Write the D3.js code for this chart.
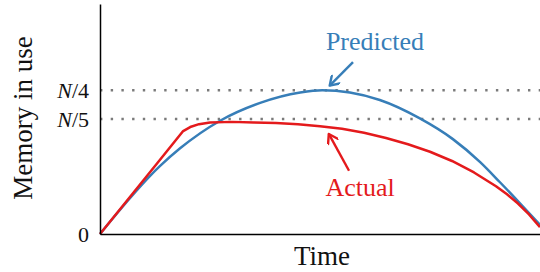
<!DOCTYPE html>
<html>
<head>
<meta charset="utf-8">
<script src="https://cdn.jsdelivr.net/npm/d3@7"></script>
<style>
  body { margin: 0; background: #fff; }
</style>
</head>
<body>
<script>
var width = 540,
    height = 272,
    serif = "'Liberation Serif', 'DejaVu Serif', serif";

// time as a fraction of the run, memory as a fraction of N
var predictedT = [0, 0.136, 0.182, 0.273, 0.364, 0.455, 0.505, 0.568, 0.636, 0.727, 0.802, 0.864, 0.909, 0.955, 1.0];
var predictedM = [0, 0.118, 0.149, 0.197, 0.228, 0.246, 0.25, 0.246, 0.233, 0.201, 0.165, 0.125, 0.09, 0.053, 0.016];

var actualT = [0, 0.130, 0.189, 0.205, 0.225, 0.25, 0.3, 0.35, 0.4, 0.45, 0.5, 0.55, 0.6, 0.65, 0.7, 0.75, 0.8, 0.85, 0.9, 0.925, 0.95, 0.975, 1.0];
var actualM = [0, 0.123, 0.179, 0.186, 0.191, 0.194, 0.195, 0.194, 0.193, 0.191, 0.1875, 0.183, 0.176, 0.167, 0.156, 0.143, 0.127, 0.107, 0.083, 0.069, 0.053, 0.034, 0.012];

var levelValues = [0.25, 0.2];
var tickValues = [0, 0.2, 0.25];
var tickLabels = ["0", "N/5", "N/4"];

var blue = "#377eb8",
    red = "#e41a1c";

var x = d3.scaleLinear().domain([0, 1]).range([100, 540]);
var y = d3.scaleLinear().domain([0, 0.4]).range([234, 4]);

var svg = d3.select("body").append("svg")
    .attr("width", width)
    .attr("height", height);

var defs = svg.append("defs");
[["arrowBlue", blue], ["arrowRed", red]].forEach(function(m) {
  defs.append("marker")
      .attr("id", m[0])
      .attr("viewBox", "0 0 12 12")
      .attr("refX", 10.5)
      .attr("refY", 6)
      .attr("markerWidth", 12)
      .attr("markerHeight", 12)
      .attr("markerUnits", "userSpaceOnUse")
      .attr("orient", "auto")
    .append("path")
      .attr("d", "M2,0.5 L10.5,6 L2,11.5")
      .attr("fill", "none")
      .attr("stroke", m[1])
      .attr("stroke-width", 2.4)
      .attr("stroke-linecap", "round")
      .attr("stroke-linejoin", "round");
});

// dotted reference levels
svg.selectAll("line.level")
    .data(levelValues)
  .enter().append("line")
    .attr("class", "level")
    .attr("x1", x(0))
    .attr("x2", x(1))
    .attr("y1", function(d) { return y(d); })
    .attr("y2", function(d) { return y(d); })
    .attr("stroke", "#7a7a7a")
    .attr("stroke-width", 2.4)
    .attr("stroke-dasharray", "2.4,8.3");

var smooth = d3.line()
    .x(function(d) { return x(d[0]); })
    .y(function(d) { return y(d[1]); })
    .curve(d3.curveMonotoneX);

var straight = d3.line()
    .x(function(d) { return x(d[0]); })
    .y(function(d) { return y(d[1]); });

svg.append("path")
    .datum(d3.zip(predictedT, predictedM))
    .attr("d", smooth)
    .attr("fill", "none")
    .attr("stroke", blue)
    .attr("stroke-width", 2.5);

svg.append("path")
    .datum(d3.zip(actualT, actualM))
    .attr("d", straight)
    .attr("fill", "none")
    .attr("stroke", red)
    .attr("stroke-width", 2.5)
    .attr("stroke-linejoin", "round");

// axes
var yAxis = svg.append("g")
    .attr("transform", "translate(" + x(0) + ",0)")
    .call(d3.axisLeft(y).tickValues(tickValues).tickSize(0).tickPadding(11)
      .tickFormat(function(d, i) { return tickLabels[i]; }));

yAxis.select(".domain").attr("stroke", "#000").attr("stroke-width", 1.5);
yAxis.selectAll(".tick text")
    .attr("fill", "#111")
    .attr("font-family", serif)
    .attr("font-size", 22)
    .each(function(d, i) {
      var t = d3.select(this), s = tickLabels[i];
      if (s.charAt(0) === "N") {
        t.text(null);
        t.append("tspan").attr("font-style", "italic").text("N");
        t.append("tspan").text(s.slice(1));
      }
    });

var xAxis = svg.append("g")
    .attr("transform", "translate(0," + y(0) + ")")
    .call(d3.axisBottom(x).tickValues([]).tickSize(0));
xAxis.select(".domain").attr("stroke", "#000").attr("stroke-width", 1.5);

// axis titles
svg.append("text")
    .attr("x", 322)
    .attr("y", 265)
    .attr("text-anchor", "middle")
    .attr("font-family", serif)
    .attr("font-size", 27)
    .attr("fill", "#111")
    .text("Time");

svg.append("text")
    .attr("transform", "translate(32,118) rotate(-90)")
    .attr("text-anchor", "middle")
    .attr("font-family", serif)
    .attr("font-size", 27)
    .attr("fill", "#111")
    .text("Memory in use");

// annotations
svg.append("text")
    .attr("x", x(0.625))
    .attr("y", 50)
    .attr("text-anchor", "middle")
    .attr("font-family", serif)
    .attr("font-size", 26)
    .attr("fill", blue)
    .text("Predicted");

svg.append("line")
    .attr("x1", x(0.575)).attr("y1", y(0.299))
    .attr("x2", x(0.522)).attr("y2", y(0.258))
    .attr("stroke", blue)
    .attr("stroke-width", 2.4)
    .attr("marker-end", "url(#arrowBlue)");

svg.append("text")
    .attr("x", x(0.591))
    .attr("y", 196)
    .attr("text-anchor", "middle")
    .attr("font-family", serif)
    .attr("font-size", 26)
    .attr("fill", red)
    .text("Actual");

svg.append("line")
    .attr("x1", x(0.566)).attr("y1", y(0.110))
    .attr("x2", x(0.52)).attr("y2", y(0.174))
    .attr("stroke", red)
    .attr("stroke-width", 2.4)
    .attr("marker-end", "url(#arrowRed)");
</script>
</body>
</html>
